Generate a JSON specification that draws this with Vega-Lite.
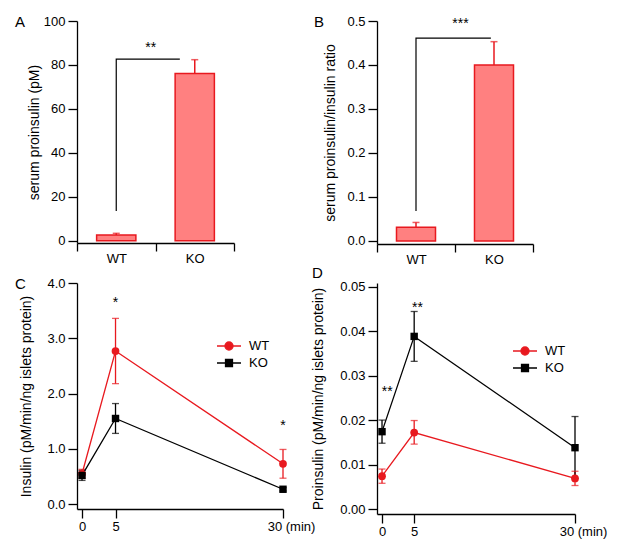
{
  "$schema": "https://vega.github.io/schema/vega-lite/v6.json",
  "background": "white",
  "padding": {"left": 15, "top": 15, "right": 2, "bottom": 2},
  "columns": 2,
  "bounds": "flush",
  "spacing": {"row": 39, "column": 94},
  "resolve": {"scale": {"color": "independent", "fill": "independent"}, "legend": {"color": "independent", "fill": "independent"}},
  "config": {
    "font": "Liberation Sans",
    "view": {"stroke": null},
    "axis": {"domainColor": "black", "tickColor": "black", "labelColor": "black", "titleColor": "black", "labelFontSize": 13, "titleFontSize": 14, "titleFontWeight": "normal", "grid": false, "domainWidth": 1.3, "tickWidth": 1.3, "labelFont": "Liberation Sans", "titleFont": "Liberation Sans", "labelFlush": false},
    "title": {"fontSize": 15, "fontWeight": "normal", "color": "black", "anchor": "start", "frame": "group", "offset": 0, "font": "Liberation Sans"},
    "legend": {"labelFontSize": 13, "labelColor": "black", "labelFont": "Liberation Sans", "title": null, "orient": "none", "padding": 0, "symbolSize": 144, "symbolOpacity": 1, "labelOffset": 13, "symbolStrokeWidth": 1.3}
  },
  "concat": [
    {
      "title": {"text": "A", "dx": -62, "dy": 19},
      "width": 157,
      "height": 222,
      "layer": [
        {
          "data": {"values": [{"g": "WT", "v": 2.6, "e": 3.4}, {"g": "KO", "v": 76.1, "e": 82.4}]},
          "encoding": {
            "x": {"field": "g", "type": "nominal", "sort": ["WT", "KO"], "scale": {"type": "band", "domain": ["WT", "KO"], "paddingInner": 0, "paddingOuter": 0}, "axis": {"title": null, "labelAngle": 0, "tickBand": "extent", "tickSize": 8, "labelPadding": 1}},
            "y": {"field": "v", "type": "quantitative", "scale": {"domain": [-1, 100], "nice": false, "zero": false}, "axis": {"title": "serum proinsulin (pM)", "values": [0, 20, 40, 60, 80, 100], "tickSize": 9, "labelPadding": 3, "titlePadding": 2}}
          },
          "layer": [
            {"mark": {"type": "rule", "color": "#e8191f", "strokeWidth": 1.5}, "encoding": {"y2": {"field": "e"}}},
            {"mark": {"type": "tick", "color": "#e8191f", "size": 7, "thickness": 1.5}, "encoding": {"y": {"field": "e", "type": "quantitative", "axis": {"title": "serum proinsulin (pM)", "values": [0, 20, 40, 60, 80, 100], "tickSize": 9, "labelPadding": 3, "titlePadding": 2}}}},
            {"mark": {"type": "bar", "fill": "#ff8080", "stroke": "#e8191f", "strokeWidth": 1.5, "width": {"band": 0.5}}}
          ]
        },
        {
          "data": {"values": [{"bx": 0.5, "v": 13.6, "o": 1}, {"bx": 0.5, "v": 82.7, "o": 2}, {"bx": 1.31, "v": 82.7, "o": 3}]},
          "mark": {"type": "line", "color": "black", "strokeWidth": 1.2},
          "encoding": {
            "x": {"field": "bx", "type": "quantitative", "scale": {"domain": [0, 2], "nice": false}, "axis": null},
            "y": {"field": "v", "type": "quantitative"},
            "order": {"field": "o", "type": "quantitative"}
          }
        },
        {
          "data": {"values": [{"bx": 0.94, "v": 86, "s": "**"}]},
          "mark": {"type": "text", "fontSize": 14, "baseline": "alphabetic", "color": "black"},
          "encoding": {
            "x": {"field": "bx", "type": "quantitative", "scale": {"domain": [0, 2], "nice": false}, "axis": null},
            "y": {"field": "v", "type": "quantitative"},
            "text": {"field": "s"}
          }
        }
      ],
      "resolve": {"scale": {"x": "independent"}}
    },
    {
      "title": {"text": "B", "dx": -63, "dy": 19},
      "width": 156,
      "height": 223,
      "layer": [
        {
          "data": {"values": [{"g": "WT", "v": 0.031, "e": 0.042}, {"g": "KO", "v": 0.40, "e": 0.453}]},
          "encoding": {
            "x": {"field": "g", "type": "nominal", "sort": ["WT", "KO"], "scale": {"type": "band", "domain": ["WT", "KO"], "paddingInner": 0, "paddingOuter": 0}, "axis": {"title": null, "labelAngle": 0, "tickBand": "extent", "tickSize": 8, "labelPadding": 1}},
            "y": {"field": "v", "type": "quantitative", "scale": {"domain": [-0.007, 0.5], "nice": false, "zero": false}, "axis": {"title": "serum proinsulin/insulin ratio", "values": [0, 0.1, 0.2, 0.3, 0.4, 0.5], "format": ".1f", "tickSize": 9, "labelPadding": 3, "titlePadding": 9}}
          },
          "layer": [
            {"mark": {"type": "rule", "color": "#e8191f", "strokeWidth": 1.5}, "encoding": {"y2": {"field": "e"}}},
            {"mark": {"type": "tick", "color": "#e8191f", "size": 7, "thickness": 1.5}, "encoding": {"y": {"field": "e", "type": "quantitative", "axis": {"title": "serum proinsulin/insulin ratio", "values": [0, 0.1, 0.2, 0.3, 0.4, 0.5], "format": ".1f", "tickSize": 9, "labelPadding": 3, "titlePadding": 9}}}},
            {"mark": {"type": "bar", "fill": "#ff8080", "stroke": "#e8191f", "strokeWidth": 1.5, "width": {"band": 0.5}}}
          ]
        },
        {
          "data": {"values": [{"bx": 0.5, "v": 0.068, "o": 1}, {"bx": 0.5, "v": 0.461, "o": 2}, {"bx": 1.46, "v": 0.461, "o": 3}]},
          "mark": {"type": "line", "color": "black", "strokeWidth": 1.2},
          "encoding": {
            "x": {"field": "bx", "type": "quantitative", "scale": {"domain": [0, 2], "nice": false}, "axis": null},
            "y": {"field": "v", "type": "quantitative"},
            "order": {"field": "o", "type": "quantitative"}
          }
        },
        {
          "data": {"values": [{"bx": 1.07, "v": 0.485, "s": "***"}]},
          "mark": {"type": "text", "fontSize": 14, "baseline": "alphabetic", "color": "black"},
          "encoding": {
            "x": {"field": "bx", "type": "quantitative", "scale": {"domain": [0, 2], "nice": false}, "axis": null},
            "y": {"field": "v", "type": "quantitative"},
            "text": {"field": "s"}
          }
        }
      ],
      "resolve": {"scale": {"x": "independent"}}
    },
    {
      "title": {"text": "C", "dx": -62, "dy": 19},
      "width": 206,
      "height": 226,
      "data": {"values": [
        {"g": "WT", "t": 0, "v": 0.55, "lo": 0.47, "hi": 0.63},
        {"g": "WT", "t": 5, "v": 2.77, "lo": 2.18, "hi": 3.36},
        {"g": "WT", "t": 30, "v": 0.73, "lo": 0.47, "hi": 0.99},
        {"g": "KO", "t": 0, "v": 0.52, "lo": 0.43, "hi": 0.61},
        {"g": "KO", "t": 5, "v": 1.55, "lo": 1.28, "hi": 1.82},
        {"g": "KO", "t": 30, "v": 0.27, "lo": 0.24, "hi": 0.30}
      ]},
      "layer": [
        {
          "mark": {"type": "rule", "strokeWidth": 1.3},
          "encoding": {
            "x": {"field": "t", "type": "quantitative", "scale": {"domain": [-0.75, 30], "nice": false, "zero": false}, "axis": {"title": null, "values": [0, 5, 30], "tickSize": 9, "labelPadding": 2, "labelExpr": "datum.value === 30 ? '30 (min)' : datum.label", "labelOffset": {"condition": {"test": "datum.value === 30", "value": 8}, "value": 0}}},
            "y": {"field": "lo", "type": "quantitative", "scale": {"domain": [-0.087, 4], "nice": false, "zero": false}, "axis": {"title": "Insulin (pM/min/ng islets protein)", "values": [0, 1, 2, 3, 4], "format": ".1f", "tickSize": 9, "labelPadding": 3, "titlePadding": 13}},
            "y2": {"field": "hi"},
            "color": {"field": "g", "type": "nominal", "scale": {"domain": ["WT", "KO"], "range": ["#e8191f", "black"]}}
          }
        },
        {
          "mark": {"type": "tick", "orient": "horizontal", "size": 7, "thickness": 1.3},
          "encoding": {
            "x": {"field": "t", "type": "quantitative"},
            "y": {"field": "lo", "type": "quantitative", "axis": {"title": "Insulin (pM/min/ng islets protein)", "values": [0, 1, 2, 3, 4], "format": ".1f", "tickSize": 9, "labelPadding": 3, "titlePadding": 13}},
            "color": {"field": "g", "type": "nominal"}
          }
        },
        {
          "mark": {"type": "tick", "orient": "horizontal", "size": 7, "thickness": 1.3},
          "encoding": {
            "x": {"field": "t", "type": "quantitative"},
            "y": {"field": "hi", "type": "quantitative", "axis": {"title": "Insulin (pM/min/ng islets protein)", "values": [0, 1, 2, 3, 4], "format": ".1f", "tickSize": 9, "labelPadding": 3, "titlePadding": 13}},
            "color": {"field": "g", "type": "nominal"}
          }
        },
        {
          "mark": {"type": "line", "strokeWidth": 1.3},
          "encoding": {
            "x": {"field": "t", "type": "quantitative"},
            "y": {"field": "v", "type": "quantitative", "axis": {"title": "Insulin (pM/min/ng islets protein)", "values": [0, 1, 2, 3, 4], "format": ".1f", "tickSize": 9, "labelPadding": 3, "titlePadding": 13}},
            "color": {"field": "g", "type": "nominal"}
          }
        },
        {
          "transform": [{"filter": "datum.g === 'WT'"}],
          "mark": {"type": "point", "shape": "circle", "filled": true, "size": 60, "opacity": 1},
          "encoding": {
            "x": {"field": "t", "type": "quantitative"},
            "y": {"field": "v", "type": "quantitative", "axis": {"title": "Insulin (pM/min/ng islets protein)", "values": [0, 1, 2, 3, 4], "format": ".1f", "tickSize": 9, "labelPadding": 3, "titlePadding": 13}},
            "color": {"field": "g", "type": "nominal", "legend": {"values": ["WT"], "legendX": 145, "legendY": 56, "symbolType": "M-2,0L2,0M0.67,0A0.67,0.67,0,1,1,-0.67,0A0.67,0.67,0,1,1,0.67,0Z", "symbolFillColor": "#e8191f", "symbolStrokeColor": "#e8191f"}}
          }
        },
        {
          "transform": [{"filter": "datum.g === 'KO'"}],
          "mark": {"type": "point", "shape": "square", "filled": true, "size": 55, "opacity": 1},
          "encoding": {
            "x": {"field": "t", "type": "quantitative"},
            "y": {"field": "v", "type": "quantitative", "axis": {"title": "Insulin (pM/min/ng islets protein)", "values": [0, 1, 2, 3, 4], "format": ".1f", "tickSize": 9, "labelPadding": 3, "titlePadding": 13}},
            "fill": {"field": "g", "type": "nominal", "scale": {"domain": ["KO", "WT"], "range": ["black", "#e8191f"]}, "legend": {"values": ["KO"], "legendX": 145, "legendY": 73, "symbolType": "M-2,0L2,0M-0.58,-0.58L0.58,-0.58L0.58,0.58L-0.58,0.58Z", "symbolFillColor": "black", "symbolStrokeColor": "black"}}
          }
        },
        {
          "data": {"values": [{"t": 5, "v": 3.56, "s": "*"}, {"t": 30, "v": 1.34, "s": "*"}]},
          "mark": {"type": "text", "fontSize": 14, "baseline": "alphabetic", "color": "black"},
          "encoding": {
            "x": {"field": "t", "type": "quantitative"},
            "y": {"field": "v", "type": "quantitative", "axis": {"title": "Insulin (pM/min/ng islets protein)", "values": [0, 1, 2, 3, 4], "format": ".1f", "tickSize": 9, "labelPadding": 3, "titlePadding": 13}},
            "text": {"field": "s"}
          }
        }
      ]
    },
    {
      "title": {"text": "D", "dx": -65, "dy": 4},
      "width": 198,
      "height": 231,
      "data": {"values": [
        {"g": "WT", "t": 0, "v": 0.0074, "lo": 0.0058, "hi": 0.0090},
        {"g": "WT", "t": 5, "v": 0.0172, "lo": 0.0146, "hi": 0.0199},
        {"g": "WT", "t": 30, "v": 0.0069, "lo": 0.0053, "hi": 0.0085},
        {"g": "KO", "t": 0, "v": 0.0174, "lo": 0.0148, "hi": 0.0200},
        {"g": "KO", "t": 5, "v": 0.0388, "lo": 0.0332, "hi": 0.0444},
        {"g": "KO", "t": 30, "v": 0.0138, "lo": 0.0069, "hi": 0.0208}
      ]},
      "layer": [
        {
          "mark": {"type": "rule", "strokeWidth": 1.3},
          "encoding": {
            "x": {"field": "t", "type": "quantitative", "scale": {"domain": [-0.78, 30], "nice": false, "zero": false}, "axis": {"title": null, "values": [0, 5, 30], "tickSize": 9, "labelPadding": 2, "labelExpr": "datum.value === 30 ? '30 (min)' : datum.label", "labelOffset": {"condition": {"test": "datum.value === 30", "value": 8}, "value": 0}}},
            "y": {"field": "lo", "type": "quantitative", "scale": {"domain": [-0.0011, 0.0508], "nice": false, "zero": false}, "axis": {"title": "Proinsulin (pM/min/ng islets protein)", "values": [0, 0.01, 0.02, 0.03, 0.04, 0.05], "format": ".2f", "tickSize": 9, "labelPadding": 3, "titlePadding": 14}},
            "y2": {"field": "hi"},
            "color": {"field": "g", "type": "nominal", "scale": {"domain": ["WT", "KO"], "range": ["#e8191f", "black"]}}
          }
        },
        {
          "mark": {"type": "tick", "orient": "horizontal", "size": 7, "thickness": 1.3},
          "encoding": {
            "x": {"field": "t", "type": "quantitative"},
            "y": {"field": "lo", "type": "quantitative", "axis": {"title": "Proinsulin (pM/min/ng islets protein)", "values": [0, 0.01, 0.02, 0.03, 0.04, 0.05], "format": ".2f", "tickSize": 9, "labelPadding": 3, "titlePadding": 14}},
            "color": {"field": "g", "type": "nominal"}
          }
        },
        {
          "mark": {"type": "tick", "orient": "horizontal", "size": 7, "thickness": 1.3},
          "encoding": {
            "x": {"field": "t", "type": "quantitative"},
            "y": {"field": "hi", "type": "quantitative", "axis": {"title": "Proinsulin (pM/min/ng islets protein)", "values": [0, 0.01, 0.02, 0.03, 0.04, 0.05], "format": ".2f", "tickSize": 9, "labelPadding": 3, "titlePadding": 14}},
            "color": {"field": "g", "type": "nominal"}
          }
        },
        {
          "mark": {"type": "line", "strokeWidth": 1.3},
          "encoding": {
            "x": {"field": "t", "type": "quantitative"},
            "y": {"field": "v", "type": "quantitative", "axis": {"title": "Proinsulin (pM/min/ng islets protein)", "values": [0, 0.01, 0.02, 0.03, 0.04, 0.05], "format": ".2f", "tickSize": 9, "labelPadding": 3, "titlePadding": 14}},
            "color": {"field": "g", "type": "nominal"}
          }
        },
        {
          "transform": [{"filter": "datum.g === 'WT'"}],
          "mark": {"type": "point", "shape": "circle", "filled": true, "size": 60, "opacity": 1},
          "encoding": {
            "x": {"field": "t", "type": "quantitative"},
            "y": {"field": "v", "type": "quantitative", "axis": {"title": "Proinsulin (pM/min/ng islets protein)", "values": [0, 0.01, 0.02, 0.03, 0.04, 0.05], "format": ".2f", "tickSize": 9, "labelPadding": 3, "titlePadding": 14}},
            "color": {"field": "g", "type": "nominal", "legend": {"values": ["WT"], "legendX": 141, "legendY": 61, "symbolType": "M-2,0L2,0M0.67,0A0.67,0.67,0,1,1,-0.67,0A0.67,0.67,0,1,1,0.67,0Z", "symbolFillColor": "#e8191f", "symbolStrokeColor": "#e8191f"}}
          }
        },
        {
          "transform": [{"filter": "datum.g === 'KO'"}],
          "mark": {"type": "point", "shape": "square", "filled": true, "size": 55, "opacity": 1},
          "encoding": {
            "x": {"field": "t", "type": "quantitative"},
            "y": {"field": "v", "type": "quantitative", "axis": {"title": "Proinsulin (pM/min/ng islets protein)", "values": [0, 0.01, 0.02, 0.03, 0.04, 0.05], "format": ".2f", "tickSize": 9, "labelPadding": 3, "titlePadding": 14}},
            "fill": {"field": "g", "type": "nominal", "scale": {"domain": ["KO", "WT"], "range": ["black", "#e8191f"]}, "legend": {"values": ["KO"], "legendX": 141, "legendY": 78, "symbolType": "M-2,0L2,0M-0.58,-0.58L0.58,-0.58L0.58,0.58L-0.58,0.58Z", "symbolFillColor": "black", "symbolStrokeColor": "black"}}
          }
        },
        {
          "data": {"values": [{"t": 5.5, "v": 0.0442, "s": "**"}, {"t": 0.82, "v": 0.0255, "s": "**"}]},
          "mark": {"type": "text", "fontSize": 14, "baseline": "alphabetic", "color": "black"},
          "encoding": {
            "x": {"field": "t", "type": "quantitative"},
            "y": {"field": "v", "type": "quantitative", "axis": {"title": "Proinsulin (pM/min/ng islets protein)", "values": [0, 0.01, 0.02, 0.03, 0.04, 0.05], "format": ".2f", "tickSize": 9, "labelPadding": 3, "titlePadding": 14}},
            "text": {"field": "s"}
          }
        }
      ]
    }
  ]
}
